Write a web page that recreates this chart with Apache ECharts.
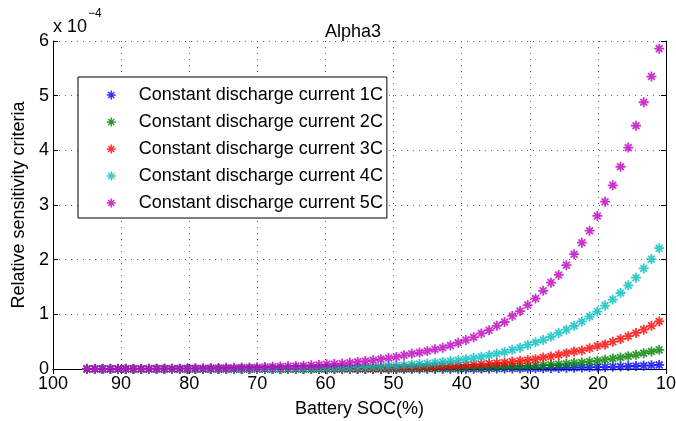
<!DOCTYPE html>
<html>
<head>
<meta charset="utf-8">
<script src="https://cdn.jsdelivr.net/npm/echarts@6/dist/echarts.min.js"></script>
<style>
html,body{margin:0;padding:0;background:#fff;}
#chart{width:676px;height:421px;}
</style>
</head>
<body>
<div id="chart"></div>
<script>
// Battery SOC (%) sample points
var soc = [95.00,93.86,92.73,91.59,90.46,89.32,88.19,87.05,85.92,84.78,
  83.65,82.51,81.38,80.24,79.11,77.97,76.84,75.70,74.57,73.43,
  72.30,71.16,70.03,68.89,67.76,66.62,65.49,64.35,63.22,62.08,
  60.95,59.81,58.68,57.54,56.41,55.27,54.14,53.00,51.86,50.73,
  49.59,48.46,47.32,46.19,45.05,43.92,42.78,41.65,40.51,39.38,
  38.24,37.11,35.97,34.84,33.70,32.57,31.43,30.30,29.16,28.03,
  26.89,25.76,24.62,23.49,22.35,21.22,20.08,18.95,17.81,16.68,
  15.54,14.41,13.27,12.14,11.00];

// Relative sensitivity criteria (x 1e-4)
var c1 = [0.00003,0.00003,0.00004,0.00004,0.00005,0.00005,0.00006,0.00006,0.00007,0.00008,
  0.00009,0.0001,0.00011,0.00012,0.00013,0.00015,0.00016,0.00018,0.0002,0.00022,
  0.00025,0.00028,0.00031,0.00034,0.00038,0.00042,0.00047,0.00052,0.00058,0.00065,
  0.0008,0.0009,0.001,0.0011,0.0012,0.0013,0.0014,0.0016,0.0018,0.002,
  0.0022,0.0024,0.0027,0.003,0.0033,0.0037,0.0041,0.0045,0.005,0.0056,
  0.0062,0.0069,0.0076,0.0085,0.0095,0.0105,0.0117,0.013,0.0145,0.016,
  0.018,0.02,0.022,0.024,0.027,0.03,0.033,0.036,0.04,0.045,
  0.05,0.055,0.061,0.068,0.075];
var c2 = [0.0001,0.0001,0.0001,0.0002,0.0002,0.0002,0.0002,0.0002,0.0003,0.0003,
  0.0003,0.0004,0.0004,0.0005,0.0005,0.0006,0.0007,0.0007,0.0008,0.0009,
  0.001,0.0011,0.0012,0.0014,0.0015,0.0017,0.0019,0.0021,0.0023,0.0026,
  0.0029,0.0032,0.0036,0.004,0.0045,0.005,0.0056,0.0062,0.007,0.0078,
  0.0087,0.0097,0.011,0.012,0.0135,0.015,0.017,0.019,0.021,0.023,
  0.026,0.029,0.032,0.036,0.04,0.045,0.05,0.056,0.063,0.07,
  0.078,0.087,0.097,0.11,0.12,0.135,0.15,0.17,0.19,0.21,
  0.235,0.26,0.29,0.32,0.35];
var c3 = [0.0004,0.0004,0.0005,0.0005,0.0006,0.0006,0.0007,0.0008,0.0009,0.001,
  0.0011,0.0012,0.0014,0.0015,0.0017,0.0019,0.0021,0.0023,0.0026,0.0029,
  0.0032,0.0036,0.004,0.0044,0.0049,0.0055,0.0061,0.0068,0.0076,0.0085,
  0.0094,0.0105,0.0117,0.013,0.0145,0.016,0.018,0.020,0.022,0.024,
  0.027,0.030,0.034,0.038,0.042,0.047,0.052,0.058,0.065,0.072,
  0.08,0.09,0.10,0.11,0.12,0.135,0.15,0.165,0.18,0.21,
  0.23,0.26,0.29,0.32,0.34,0.38,0.42,0.45,0.50,0.55,
  0.60,0.66,0.72,0.79,0.87];
var c4 = [0.0005,0.0005,0.0006,0.0007,0.0008,0.0009,0.001,0.0011,0.0013,0.0014,
  0.0016,0.0018,0.002,0.0023,0.0026,0.0029,0.0033,0.0037,0.0042,0.0047,
  0.0053,0.006,0.0068,0.0077,0.0087,0.0098,0.011,0.0125,0.014,0.016,
  0.018,0.020,0.023,0.026,0.029,0.033,0.037,0.042,0.048,0.055,
  0.062,0.07,0.08,0.09,0.10,0.115,0.13,0.145,0.16,0.18,
  0.20,0.225,0.25,0.28,0.31,0.35,0.39,0.44,0.49,0.53,
  0.59,0.66,0.72,0.79,0.87,0.96,1.05,1.16,1.27,1.39,
  1.53,1.67,1.84,2.01,2.21];
var c5 = [0.0027,0.003,0.0035,0.004,0.0045,0.005,0.0055,0.006,0.007,0.008,
  0.009,0.010,0.011,0.012,0.013,0.015,0.017,0.019,0.021,0.023,
  0.026,0.029,0.032,0.036,0.040,0.044,0.049,0.055,0.061,0.068,
  0.075,0.085,0.092,0.10,0.115,0.13,0.145,0.16,0.18,0.20,
  0.22,0.25,0.28,0.30,0.33,0.36,0.39,0.43,0.48,0.53,
  0.58,0.65,0.71,0.79,0.86,0.97,1.06,1.17,1.29,1.43,
  1.58,1.72,1.90,2.10,2.31,2.53,2.80,3.06,3.36,3.70,
  4.05,4.45,4.88,5.35,5.86];

var seriesNames = ['Constant discharge current 1C','Constant discharge current 2C',
  'Constant discharge current 3C','Constant discharge current 4C','Constant discharge current 5C'];
var seriesValues = [c1, c2, c3, c4, c5];
var seriesColors = ['#0000ff', '#008000', '#ff0000', '#00bfbf', '#bf00bf'];
var xTicks = [100, 90, 80, 70, 60, 50, 40, 30, 20, 10];
var yTicks = [0, 1, 2, 3, 4, 5, 6];

var FONT = 'Liberation Sans, Arial, Helvetica, sans-serif';
var STAR = 'path://M5 0L5 10M0 5L10 5M1.6 1.6L8.4 8.4M8.4 1.6L1.6 8.4';

var chart = echarts.init(document.getElementById('chart'), null, {renderer: 'canvas'});

var series = seriesNames.map(function (name, s) {
  return {
    name: name,
    type: 'scatter',
    symbol: STAR,
    symbolSize: 10,
    itemStyle: {color: seriesColors[s], borderColor: seriesColors[s], borderWidth: 1.8},
    emphasis: {disabled: true},
    data: soc.map(function (x, i) { return [x, seriesValues[s][i]]; })
  };
});

var commonX = {
  type: 'value', min: xTicks[xTicks.length - 1], max: xTicks[0], interval: 10, inverse: true
};
var commonY = {
  type: 'value', min: yTicks[0], max: yTicks[yTicks.length - 1], interval: 1
};

chart.setOption({
  animation: false,
  backgroundColor: '#fff',
  textStyle: {fontFamily: FONT},
  title: {
    text: 'Alpha3', left: 325, top: 23, padding: 0,
    textStyle: {fontFamily: FONT, fontSize: 18, fontWeight: 'normal', color: '#000'}
  },
  graphic: [
    {type: 'text', left: 53, top: 18, style: {text: 'x 10', font: '18px ' + FONT, fill: '#000'}},
    {type: 'text', left: 88, top: 8, style: {text: '\u22124', font: '12px ' + FONT, fill: '#000'}}
  ],
  grid: {left: 53, right: 10, top: 41, bottom: 52, containLabel: false, outerBoundsMode: 'none'},
  legend: {
    left: 78, top: 77, orient: 'vertical',
    padding: [8, 4, 5, 28],
    itemWidth: 9, itemHeight: 9, itemGap: 7,
    backgroundColor: '#fff', borderColor: '#000', borderWidth: 1,
    selectedMode: false,
    itemStyle: {borderWidth: 1.5},
    formatter: function (n) { return '{t|' + n + '}'; },
    textStyle: {
      fontFamily: FONT, fontSize: 18, color: '#000', lineHeight: 20,
      rich: {t: {fontFamily: FONT, fontSize: 18, color: '#000', lineHeight: 20, padding: [0, 0, 0, 18]}}
    },
    data: seriesNames
  },
  xAxis: [
    Object.assign({}, commonX, {
      position: 'bottom',
      name: 'Battery SOC(%)', nameLocation: 'middle', nameGap: 31,
      nameTextStyle: {fontFamily: FONT, fontSize: 18, color: '#000'},
      axisLine: {show: true, lineStyle: {color: '#000', width: 1}},
      axisTick: {show: true, inside: true, length: 5, lineStyle: {color: '#000'}},
      axisLabel: {show: true, margin: 6, fontFamily: FONT, fontSize: 18, color: '#000',
        formatter: function (v) { return xTicks.indexOf(v) >= 0 ? String(v) : ''; }},
      splitLine: {show: true, lineStyle: {color: '#666', width: 1, type: [1, 5]}}
    }),
    Object.assign({}, commonX, {
      position: 'top',
      axisLine: {show: true, lineStyle: {color: '#000', width: 1}},
      axisTick: {show: true, inside: true, length: 5, lineStyle: {color: '#000'}},
      axisLabel: {show: false},
      splitLine: {show: false}
    })
  ],
  yAxis: [
    Object.assign({}, commonY, {
      position: 'left',
      name: 'Relative sensitivity criteria', nameLocation: 'middle', nameGap: 25,
      nameTextStyle: {fontFamily: FONT, fontSize: 18, color: '#000'},
      axisLine: {show: true, lineStyle: {color: '#000', width: 1}},
      axisTick: {show: true, inside: true, length: 5, lineStyle: {color: '#000'}},
      axisLabel: {show: true, margin: 4, fontFamily: FONT, fontSize: 18, color: '#000',
        formatter: function (v) { return yTicks.indexOf(v) >= 0 ? String(v) : ''; }},
      splitLine: {show: true, lineStyle: {color: '#666', width: 1, type: [1, 5]}}
    }),
    Object.assign({}, commonY, {
      position: 'right',
      axisLine: {show: true, lineStyle: {color: '#000', width: 1}},
      axisTick: {show: true, inside: true, length: 5, lineStyle: {color: '#000'}},
      axisLabel: {show: false},
      splitLine: {show: false}
    })
  ],
  series: series
});
</script>
</body>
</html>
